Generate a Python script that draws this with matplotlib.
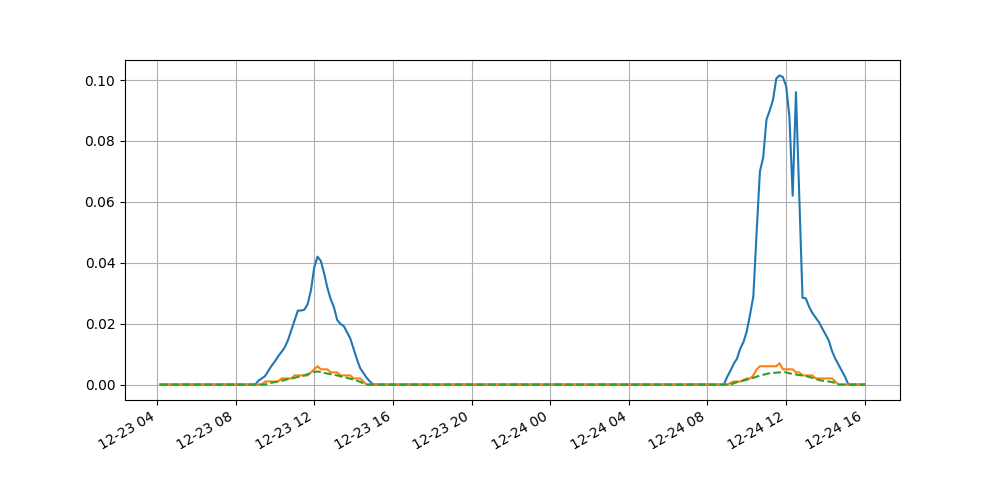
import numpy as np
import pandas as pd
import matplotlib
matplotlib.use('Agg')
import matplotlib.pyplot as plt
import matplotlib.dates as mdates

# 10 minute samples, 12-23 04:10 -> 12-24 16:00
t_start = "2023-12-23 04:10"
t_end = "2023-12-24 16:00"

# non-zero stretches of each series (start time, values every 10 min)
blue_day1_start = "2023-12-23 09:00"
blue_day1 = [0.0, 0.0013, 0.002, 0.0028, 0.0045, 0.0062, 0.0076, 0.0093, 0.0107, 0.0122,
             0.0146, 0.0178, 0.0211, 0.0243, 0.0243, 0.0246, 0.0264, 0.031, 0.0385, 0.042,
             0.0406, 0.0366, 0.0318, 0.0281, 0.0254, 0.0212, 0.0199, 0.0192, 0.0172, 0.0151,
             0.0117, 0.0084, 0.0054, 0.0038, 0.0022, 0.001, 0.0]
blue_day2_start = "2023-12-24 08:50"
blue_day2 = [0.0, 0.0025, 0.0045, 0.0068, 0.0085, 0.0118, 0.014, 0.0175, 0.023, 0.029,
             0.05, 0.07, 0.0745, 0.087, 0.09, 0.0935, 0.1005, 0.1015, 0.101, 0.098,
             0.088, 0.062, 0.096, 0.062, 0.0285, 0.0283, 0.0256, 0.0235, 0.022, 0.0205,
             0.0185, 0.0165, 0.0145, 0.011, 0.0085, 0.0065, 0.0045, 0.0025, 0.0]

orange_day1_start = "2023-12-23 09:20"
orange_day1 = [0.0, 0.001, 0.001, 0.001, 0.001, 0.001, 0.002, 0.002, 0.002, 0.002,
               0.003, 0.003, 0.003, 0.003, 0.003, 0.004, 0.005, 0.006, 0.005, 0.005,
               0.005, 0.004, 0.004, 0.004, 0.003, 0.003, 0.003, 0.003, 0.002, 0.002,
               0.002, 0.001, 0.0]
orange_day2_start = "2023-12-24 09:00"
orange_day2 = [0.0, 0.0005, 0.001, 0.001, 0.001, 0.0015, 0.002, 0.002, 0.003, 0.005,
               0.006, 0.006, 0.006, 0.006, 0.006, 0.006, 0.007, 0.005, 0.005, 0.005,
               0.005, 0.004, 0.004, 0.003, 0.003, 0.003, 0.003, 0.002, 0.002, 0.002,
               0.002, 0.002, 0.002, 0.001, 0.0]

green_day1_start = "2023-12-23 09:30"
green_day1 = [0.0, 0.0004, 0.0006, 0.0008, 0.001, 0.0012, 0.0015, 0.0018, 0.002, 0.0022,
              0.0025, 0.0027, 0.003, 0.0034, 0.0038, 0.0041, 0.0043, 0.0041, 0.0038, 0.0036,
              0.0034, 0.0032, 0.003, 0.0027, 0.0024, 0.0022, 0.0019, 0.0016, 0.0013, 0.0009,
              0.0004, 0.0]
green_day2_start = "2023-12-24 09:10"
green_day2 = [0.0, 0.0004, 0.0008, 0.001, 0.0013, 0.0016, 0.0019, 0.0022, 0.0026, 0.0029,
              0.0032, 0.0035, 0.0037, 0.0038, 0.0039, 0.004, 0.0041, 0.004, 0.0037, 0.0034,
              0.0033, 0.0031, 0.003, 0.0028, 0.0025, 0.0022, 0.0018, 0.0015, 0.0013, 0.0011,
              0.001, 0.0008, 0.0005, 0.0]

t_index = pd.date_range(t_start, t_end, freq="10min")


def build_series(segments):
    '''Zero baseline with the read-off stretches put in place.'''
    s = pd.Series(0.0, index=t_index)
    for start, vals in segments:
        idx = pd.date_range(start, periods=len(vals), freq="10min")
        s[idx] = vals
    return s


blue = build_series([(blue_day1_start, blue_day1), (blue_day2_start, blue_day2)])
orange = build_series([(orange_day1_start, orange_day1), (orange_day2_start, orange_day2)])
green = build_series([(green_day1_start, green_day1), (green_day2_start, green_day2)])

fig, ax = plt.subplots(figsize=(10, 5), dpi=100)
ax.plot(t_index, blue.values, '-', color='C0')
ax.plot(t_index, orange.values, '-', color='C1')
ax.plot(t_index, green.values, '--', color='C2')

ax.xaxis.set_major_locator(mdates.HourLocator(byhour=range(0, 24, 4)))
ax.xaxis.set_major_formatter(mdates.DateFormatter('%m-%d %H'))
ax.grid(True)
fig.autofmt_xdate()

plt.savefig("out.png")
